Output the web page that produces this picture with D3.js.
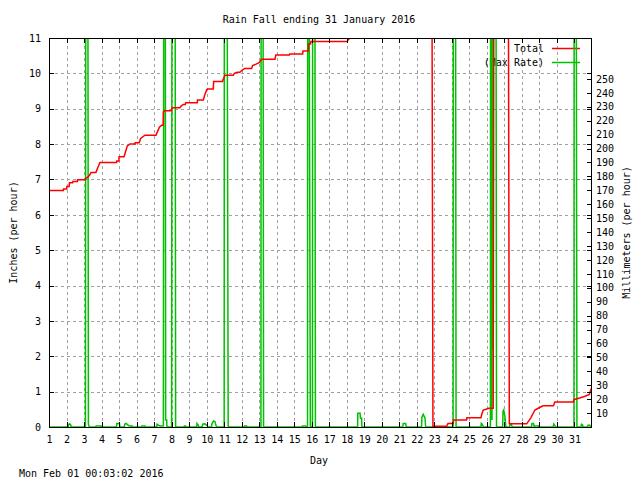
<!DOCTYPE html>
<html><head><meta charset="utf-8">
<script src="https://cdn.jsdelivr.net/npm/d3@7"></script>
<style>
body{margin:0;background:#fff}
svg text{font-family:"DejaVu Sans Mono",monospace;font-size:10px;fill:#000}
</style>
</head><body><svg id="c" width="640" height="480"></svg>
<script>
const title = "Rain Fall ending 31 January 2016";
const footer = "Mon Feb 01 00:03:02 2016";
const xLabel = "Day";
const yLabel = "Inches (per hour)";
const y2Label = "Millimeters (per hour)";
const legendLabels = ["Total", "(Max Rate)"];
const xTickLabels = [1,2,3,4,5,6,7,8,9,10,11,12,13,14,15,16,17,18,19,20,21,22,23,24,25,26,27,28,29,30,31];
const yTickLabels = [0,1,2,3,4,5,6,7,8,9,10,11];
const y2TickLabels = [10,20,30,40,50,60,70,80,90,100,110,120,130,140,150,160,170,180,190,200,210,220,230,240,250];

// Total rain (inches) : [day, value]
const totalSeries = [
[1.00,6.69],[1.82,6.69],[1.83,6.73],[2.01,6.73],[2.02,6.80],[2.15,6.80],[2.17,6.91],[2.35,6.91],[2.36,6.94],[2.62,6.94],[2.63,6.99],[3.05,6.99],[3.10,7.03],[3.25,7.08],[3.34,7.14],[3.40,7.20],[3.68,7.20],[3.80,7.35],[3.91,7.48],[4.86,7.48],[4.87,7.52],[4.99,7.52],[5.00,7.64],[5.28,7.64],[5.38,7.80],[5.47,7.95],[5.62,8.00],[5.91,8.00],[5.92,8.04],[6.15,8.04],[6.23,8.16],[6.48,8.25],[7.11,8.25],[7.20,8.36],[7.30,8.48],[7.43,8.53],[7.52,8.53],[7.53,8.91],[7.60,8.94],[8.00,8.94],[8.02,9.03],[8.48,9.03],[8.55,9.08],[8.67,9.12],[8.78,9.12],[8.80,9.17],[9.46,9.17],[9.48,9.25],[9.81,9.25],[9.90,9.40],[10.00,9.53],[10.05,9.56],[10.38,9.56],[10.40,9.77],[10.91,9.77],[10.93,9.81],[11.05,9.95],[11.52,9.95],[11.58,10.00],[11.75,10.03],[11.90,10.03],[12.00,10.08],[12.17,10.14],[12.57,10.14],[12.62,10.22],[12.82,10.26],[13.00,10.30],[13.14,10.40],[13.90,10.40],[13.95,10.52],[14.72,10.52],[14.74,10.55],[15.48,10.55],[15.50,10.63],[15.80,10.63],[15.81,10.83],[15.93,10.83],[15.95,10.90],[18.03,10.90],[18.08,10.95],[18.30,11.05],[18.60,11.20],[22.87,11.20],[22.92,0.02],[23.70,0.02],[23.78,0.10],[24.08,0.10],[24.10,0.20],[24.84,0.20],[24.86,0.26],[25.66,0.26],[25.72,0.38],[25.79,0.48],[25.95,0.50],[26.11,0.53],[26.36,0.53],[26.40,14],[27.22,14],[27.28,0.09],[28.27,0.09],[28.50,0.25],[28.74,0.48],[28.93,0.53],[29.21,0.60],[29.80,0.60],[29.88,0.71],[30.93,0.71],[30.97,0.78],[31.30,0.82],[31.60,0.87],[31.85,0.92],[31.93,1.05],[32.00,1.12]
];

// Max rate (inches per hour) : [day, value]
const maxRateSeries = [
[1.00,0],[2.10,0],[2.12,0.07],[2.18,0.09],[2.23,0.07],[2.26,0],[3.08,0],[3.10,13],[3.22,13],[3.25,0.08],[3.30,0],[3.68,0],[3.69,0.03],[3.97,0.03],[3.98,0],[4.86,0],[4.87,0.10],[5.02,0.10],[5.05,0],[5.30,0],[5.32,0.08],[5.40,0.10],[5.50,0.06],[5.58,0.03],[5.75,0.03],[5.76,0],[6.30,0],[6.31,0.03],[6.48,0.03],[6.49,0],[7.15,0],[7.17,0.08],[7.24,0.05],[7.33,0.03],[7.53,0.03],[7.55,13],[7.64,13],[7.66,0.2],[7.72,0.2],[7.73,0],[8.00,0],[8.02,13],[8.20,13],[8.23,0],[8.72,0],[8.73,0.03],[8.80,0.03],[8.81,0],[9.43,0],[9.45,0.10],[9.50,0.07],[9.56,0],[9.75,0],[9.77,0.08],[9.90,0.09],[10.00,0.05],[10.09,0],[10.28,0],[10.30,0.09],[10.40,0.17],[10.48,0.15],[10.52,0.06],[10.57,0],[11.00,0],[11.01,13],[11.17,13],[11.23,0],[12.15,0],[12.16,0.03],[12.28,0.03],[12.29,0],[13.10,0],[13.11,13],[13.22,13],[13.25,0],[15.46,0],[15.47,0.03],[15.65,0.03],[15.66,0],[15.76,0],[15.77,13],[15.85,13],[15.92,0],[16.04,0],[16.05,13],[16.18,13],[16.21,0],[18.62,0],[18.63,0.39],[18.76,0.39],[18.78,0.25],[18.85,0.25],[18.86,0],[21.20,0],[21.22,0.10],[21.36,0.10],[21.40,0],[22.27,0],[22.29,0.28],[22.36,0.36],[22.42,0.30],[22.47,0.25],[22.50,0],[24.07,0],[24.08,13],[24.21,13],[24.24,0],[25.66,0],[25.68,0.10],[25.74,0.07],[25.80,0],[26.20,0],[26.21,13],[26.23,0.2],[26.24,13],[26.26,0.2],[26.27,13],[26.29,0.2],[26.30,13],[26.33,2.2],[26.35,13],[26.52,13],[26.55,0],[26.90,0],[26.92,0.45],[26.96,0.48],[27.00,0.38],[27.04,0.25],[27.08,0],[27.30,0],[27.32,0.08],[27.40,0.06],[27.45,0],[28.55,0],[28.57,0.10],[28.66,0.10],[28.70,0],[28.72,0],[28.73,0.03],[28.95,0.03],[28.96,0],[29.78,0],[29.82,0.08],[29.86,0.05],[29.92,0],[30.97,0],[30.98,13],[31.10,13],[31.14,0],[31.37,0],[31.40,0.08],[31.46,0.06],[31.50,0],[31.75,0],[31.77,0.05],[31.88,0.05],[31.90,0],[32.00,0]
];

const L = 49, R = 592, T = 38, B = 427;
const svg = d3.select("#c");

const x = d3.scaleLinear().domain([1, 32]).range([L, R]);
const y = d3.scaleLinear().domain([0, 11]).range([B, T]);
const y2 = d3.scaleLinear().domain([0, 11 * 25.4]).range([B, T]);

// grid
const grid = svg.append("g").attr("stroke", "#a0a0a0").attr("stroke-width", 1).attr("stroke-dasharray", "3,3").attr("shape-rendering", "crispEdges");
grid.selectAll("line.gx").data(xTickLabels.filter(d => d > 1)).join("line")
  .attr("x1", d => Math.round(x(d)) + 0.5).attr("x2", d => Math.round(x(d)) + 0.5)
  .attr("y1", B).attr("y2", T);
grid.selectAll("line.gy").data(yTickLabels.filter(d => d > 0 && d < 11)).join("line")
  .attr("y1", d => Math.round(y(d)) + 0.5).attr("y2", d => Math.round(y(d)) + 0.5)
  .attr("x1", L).attr("x2", R);

// legend
const legendColors = ["#ff0000", "#00c000"];
const lg = svg.append("g");
legendLabels.forEach((lab, i) => {
  lg.append("text").attr("x", 544).attr("y", 52 + i * 14).attr("text-anchor", "end").text(lab);
  lg.append("line").attr("x1", 552).attr("x2", 580).attr("y1", 48.5 + i * 14).attr("y2", 48.5 + i * 14)
    .attr("stroke", legendColors[i]).attr("stroke-width", 1.5);
});

// data
svg.append("clipPath").attr("id", "clip").append("rect").attr("x", L).attr("y", T).attr("width", R - L).attr("height", B - T);
const line = d3.line().x(d => x(d[0])).y(d => y(d[1]));
const dg = svg.append("g").attr("clip-path", "url(#clip)");
dg.append("path").datum(maxRateSeries).attr("d", line).attr("fill", "none").attr("stroke", legendColors[1]).attr("stroke-width", 1.5);
dg.append("path").datum(totalSeries).attr("d", line).attr("fill", "none").attr("stroke", legendColors[0]).attr("stroke-width", 1.5);

// axes
const ax = svg.append("g");
function style(g) {
  g.select(".domain").remove();
  g.selectAll(".tick line").attr("stroke", "#000").attr("shape-rendering", "crispEdges");
  g.selectAll("text").attr("font-family", "DejaVu Sans Mono").attr("font-size", 10).attr("fill", "#000");
}
ax.append("g").attr("transform", `translate(0,${B})`)
  .call(d3.axisBottom(x).tickValues(xTickLabels).tickFormat(d3.format("d")).tickSize(-5).tickPadding(9)).call(style);
ax.append("g").attr("transform", `translate(0,${T})`)
  .call(d3.axisTop(x).tickValues(xTickLabels).tickFormat("").tickSize(-5)).call(style);
ax.append("g").attr("transform", `translate(${L},0)`)
  .call(d3.axisLeft(y).tickValues(yTickLabels).tickFormat(d3.format("d")).tickSize(-5).tickPadding(8)).call(style);
ax.append("g").attr("transform", `translate(${R},0)`)
  .call(d3.axisRight(y).tickValues(yTickLabels).tickFormat("").tickSize(-5)).call(style);
ax.append("g").attr("transform", `translate(${R},0)`)
  .call(d3.axisRight(y2).tickValues(y2TickLabels).tickFormat(d3.format("d")).tickSize(-5).tickPadding(4)).call(style);

// border
svg.append("rect").attr("x", L + 0.5).attr("y", T + 0.5).attr("width", R - L - 1).attr("height", B - T)
  .attr("fill", "none").attr("stroke", "#000").attr("stroke-width", 1).attr("shape-rendering", "crispEdges");

// texts
svg.append("text").attr("x", 319).attr("y", 23).attr("text-anchor", "middle").text(title);
svg.append("text").attr("x", 319).attr("y", 464).attr("text-anchor", "middle").text(xLabel);
svg.append("text").attr("x", 19).attr("y", 477).text(footer);
svg.append("text").attr("transform", `translate(17,${(T + B) / 2}) rotate(-90)`).attr("text-anchor", "middle").text(yLabel);
svg.append("text").attr("transform", `translate(630,${(T + B) / 2}) rotate(-90)`).attr("text-anchor", "middle").text(y2Label);
</script>
</body></html>
